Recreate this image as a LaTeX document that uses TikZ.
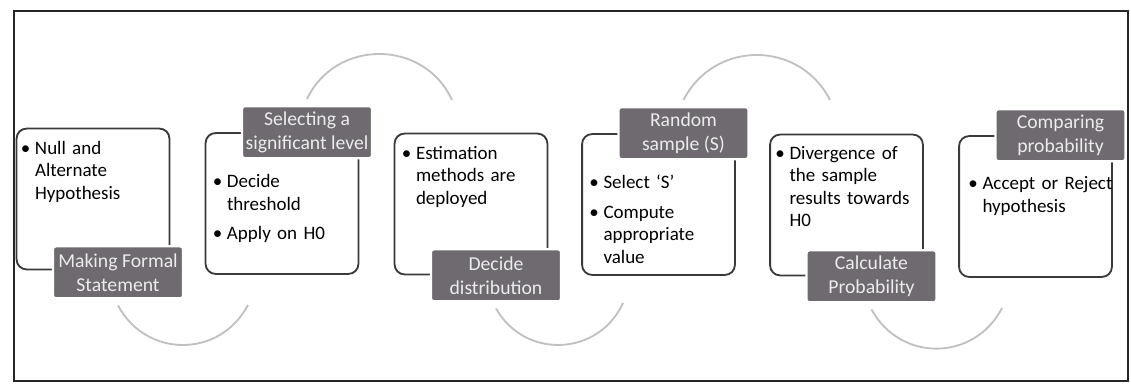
\documentclass[tikz,border=0pt]{standalone}
\usepackage{fontspec}
\setmainfont{Carlito}
\definecolor{boxline}{RGB}{58,58,58}
\definecolor{tagfill}{RGB}{110,106,112}
\definecolor{tagtext}{RGB}{236,236,236}
\definecolor{arcgray}{RGB}{192,192,192}
\newcommand{\bul}[1]{\par\noindent\hangindent=10pt\hangafter=1\makebox[10pt][l]{\textbullet}#1\par}
\newcommand{\gap}{\vspace{5pt}}
\begin{document}
\begin{tikzpicture}[x=0.025cm,y=-0.025cm,
  stepbox/.style={draw=boxline,line width=1.3pt,rounded corners=0.25cm,minimum width=3.82cm,minimum height=3.52cm,inner sep=0pt},
  tag/.style={fill=tagfill,draw=white,line width=1.6pt,rounded corners=2pt,minimum width=3.25cm,minimum height=1.3cm,inner sep=0pt,align=center,text=tagtext,font=\fontsize{14}{17}\selectfont},
  body/.style={anchor=north west,inner sep=0pt,text width=3.6cm,font=\fontsize{13.5}{16}\selectfont\raggedright},
  flowarc/.style={draw=arcgray,line width=1.3pt,looseness=1.18}]
\useasboundingbox (0,0) rectangle (1131,385);
% the six step boxes
\node[stepbox] (stmt) at (93,199) {};
\node[stepbox] (level) at (282,203.5) {};
\node[stepbox] (distr) at (471,204) {};
\node[stepbox] (sample) at (658.5,204.5) {};
\node[stepbox] (calc) at (846.5,205) {};
\node[stepbox] (comp) at (1035.5,206.5) {};
% headings on the boxes
\node[tag] (stmttag) at ([shift={(25,2)}]stmt.south) {Making Formal\\Statement};
\node[tag] (leveltag) at ([shift={(25,0)}]level.north) {Selecting a\\significant level};
\node[tag] (distrtag) at ([shift={(25,0)}]distr.south) {Decide\\distribution};
\node[tag] (sampletag) at ([shift={(25,0)}]sample.north) {Random\\sample (S)};
\node[tag] (calctag) at ([shift={(25,0)}]calc.south) {Calculate\\Probability};
\node[tag] (comptag) at ([shift={(25,0)}]comp.north) {Comparing\\probability};
% bullet texts
\node[body] (stmttxt) at ([shift={(5,4)}]stmt.north west) {\bul{Null and\newline Alternate\newline Hypothesis}};
\node[body] (leveltxt) at ([shift={(8,33)}]level.north west) {\bul{Decide\newline threshold}\gap\bul{Apply on H0}};
\node[body] (distrtxt) at ([shift={(8,4)}]distr.north west) {\bul{Estimation\newline methods are\newline deployed}};
\node[body] (sampletxt) at ([shift={(8,33)}]sample.north west) {\bul{Select ‘S’}\gap\bul{Compute\newline appropriate\newline value}};
\node[body] (calctxt) at ([shift={(6,3)}]calc.north west) {\bul{Divergence of\newline the sample\newline results towards\newline H0}};
\node[body] (comptxt) at ([shift={(10,32)}]comp.north west) {\bul{Accept or Reject\newline hypothesis}};
% arcs between the steps
\coordinate (e1) at (248,305);
\coordinate (e2) at (452,100);
\coordinate (e3) at (623,303);
\coordinate (e4) at (830,100);
\coordinate (e5) at (1002,308);
\draw[flowarc] ([shift={(0,6)}]stmttag.south) to[bend right=62] (e1);
\draw[flowarc] ([shift={(0,-6)}]leveltag.north) to[bend left=65] (e2);
\draw[flowarc] ([shift={(0,6)}]distrtag.south) to[bend right=63] (e3);
\draw[flowarc] ([shift={(0,-6)}]sampletag.north) to[bend left=63] (e4);
\draw[flowarc] ([shift={(0,6)}]calctag.south) to[bend right=62] (e5);
% outer frame
\draw[line width=1.6pt,color=black!85] (14,11) rectangle (1128,381);
\end{tikzpicture}
\end{document}
